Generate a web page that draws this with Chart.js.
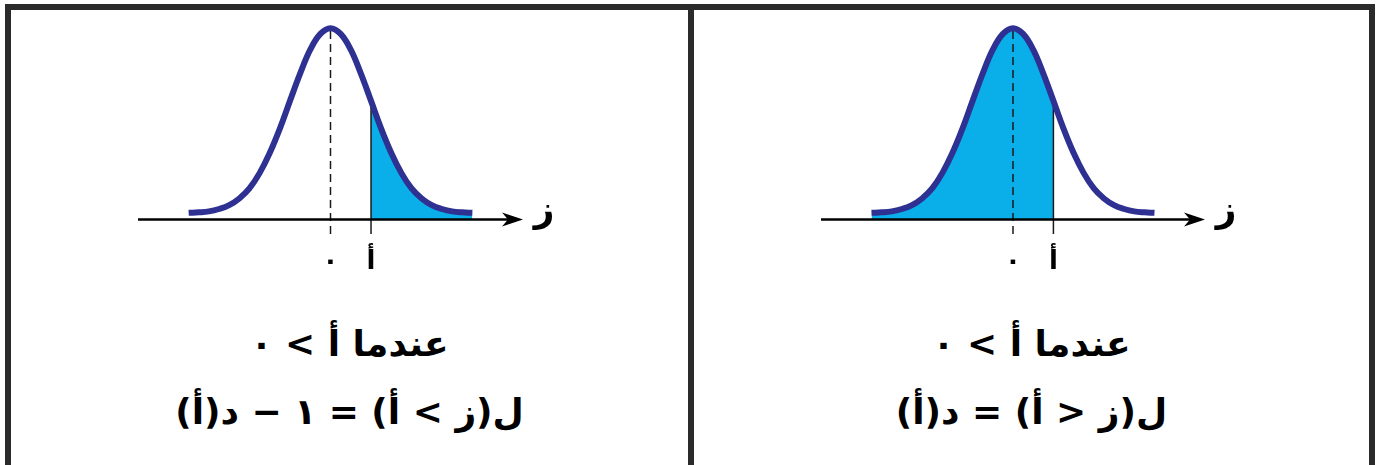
<!DOCTYPE html>
<html lang="ar">
<head>
<meta charset="utf-8">
<script src="https://cdn.jsdelivr.net/npm/chart.js@4.4.1/dist/chart.umd.min.js"></script>
<style>
  html, body { margin: 0; padding: 0; background: #fff; }
  body { width: 1379px; height: 465px; position: relative; overflow: hidden; font-family: "DejaVu Sans", sans-serif; }
  #frame { position: absolute; left: 5px; top: 4px; width: 1358px; height: 470px; border: 6px solid #2b2b2b; border-bottom: none; }
  #divider { position: absolute; left: 688px; top: 4px; width: 6px; height: 470px; background: #2b2b2b; }
  canvas { position: absolute; top: 0; }
  #leftChart { left: 0; }
  #rightChart { left: 689px; }
  .cap { position: absolute; text-align: center; direction: rtl; font-weight: bold; font-size: 36px; line-height: 50px; color: #000; }
</style>
</head>
<body>
<div id="frame"></div>
<div id="divider"></div>
<canvas id="leftChart" width="689" height="290"></canvas>
<canvas id="rightChart" width="690" height="290"></canvas>

<div class="cap" style="left:11px;width:677px;top:319px">عندما أ &gt; ٠</div>
<div class="cap" style="left:11px;width:677px;top:387px">ل(ز &gt; أ) = ١ − د(أ)</div>
<div class="cap" style="left:694px;width:675px;top:319px">عندما أ &gt; ٠</div>
<div class="cap" style="left:694px;width:675px;top:387px">ل(ز &lt; أ) = د(أ)</div>

<script>
// curve (height above the axis at each z step)
const zValues = [-3.5, -3.25, -3, -2.75, -2.5, -2.25, -2, -1.75, -1.5, -1.25, -1, -0.75, -0.5, -0.25, 0,
                 0.25, 0.5, 0.75, 1, 1.25, 1.5, 1.75, 2, 2.25, 2.5, 2.75, 3, 3.25, 3.5];
const density = [0.014, 0.015, 0.017, 0.022, 0.030, 0.044, 0.065, 0.097, 0.139, 0.190, 0.248, 0.305, 0.355, 0.388, 0.400,
                 0.388, 0.355, 0.305, 0.248, 0.190, 0.139, 0.097, 0.065, 0.044, 0.030, 0.022, 0.017, 0.015, 0.014];
const aValue = 1;
const aHeight = 0.248;
const tickValues = [0, 1];
const tickLabels = ['٠', 'أ'];
const axisName = 'ز';

const curveColor = '#2e3192';
const shadeColor = '#0aaee9';

const axisArrow = {
  id: 'axisArrow',
  afterDatasetsDraw(chart) {
    const { ctx, chartArea, scales } = chart;
    const y0 = scales.y.getPixelForValue(0);
    const left = chartArea.left, right = chartArea.right;
    ctx.save();
    ctx.strokeStyle = '#000';
    ctx.lineWidth = 2.5;
    ctx.beginPath();
    ctx.moveTo(left, y0);
    ctx.lineTo(right - 10, y0);
    ctx.stroke();
    ctx.fillStyle = '#000';
    ctx.beginPath();
    ctx.moveTo(right, y0);
    ctx.lineTo(right - 21, y0 - 7);
    ctx.lineTo(right - 15, y0);
    ctx.lineTo(right - 21, y0 + 7);
    ctx.closePath();
    ctx.fill();
    ctx.font = 'bold 36px "DejaVu Sans"';
    ctx.textAlign = 'center';
    ctx.textBaseline = 'middle';
    ctx.fillText(axisName, right + 21, y0 - 8);
    ctx.restore();
  }
};

function makeChart(id, shadeUpper, padLeft, padRight) {
  const curve = zValues.map((z, i) => ({ x: z, y: density[i] }));
  const shaded = curve.filter(p => shadeUpper ? p.x >= aValue : p.x <= aValue);

  return new Chart(document.getElementById(id), {
    type: 'line',
    data: {
      datasets: [
        { data: curve, borderColor: curveColor, borderWidth: 6, tension: 0.4, pointRadius: 0, fill: false },
        { data: [{ x: aValue, y: -0.03 }, { x: aValue, y: aHeight }], borderColor: '#1a1a1a', borderWidth: 1.5, pointRadius: 0, fill: false },
        { data: [{ x: 0, y: -0.03 }, { x: 0, y: 0.4 }], borderColor: '#1a1a1a', borderWidth: 1.5, borderDash: [8, 5], pointRadius: 0, fill: false },
        { data: shaded, borderWidth: 0, tension: 0.4, pointRadius: 0, fill: 'origin', backgroundColor: shadeColor }
      ]
    },
    options: {
      responsive: false,
      animation: false,
      layout: { padding: { left: padLeft, right: padRight, top: 20, bottom: 9 } },
      plugins: { legend: { display: false }, tooltip: { enabled: false } },
      scales: {
        x: {
          type: 'linear',
          min: -4.75,
          max: 4.75,
          grid: { display: false },
          border: { display: false },
          afterBuildTicks: s => { s.ticks = tickValues.map(v => ({ value: v })); },
          ticks: {
            autoSkip: false,
            maxRotation: 0,
            padding: 3,
            color: '#000',
            font: { family: 'DejaVu Sans', size: 26, weight: 'bold' },
            callback: v => tickLabels[tickValues.indexOf(v)]
          }
        },
        y: { display: false, min: -0.034, max: 0.417 }
      }
    },
    plugins: [axisArrow]
  });
}

makeChart('leftChart', true, 138, 166);
makeChart('rightChart', false, 132, 174);
</script>
</body>
</html>
